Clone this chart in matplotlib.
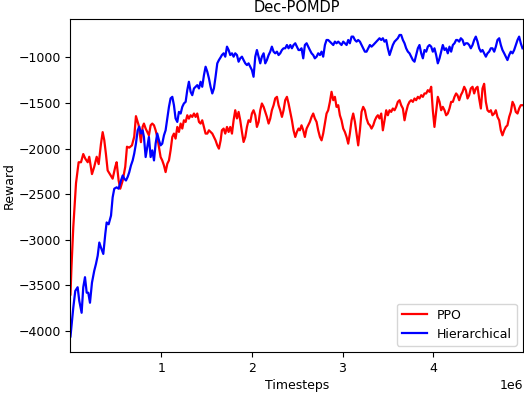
import numpy as np
import matplotlib
matplotlib.use("Agg")
import matplotlib.pyplot as plt

# timesteps (in millions) and rewards
red_t_early = [0.000, 0.011, 0.031, 0.061, 0.090, 0.116, 0.141, 0.163, 0.190, 0.207,
               0.237, 0.262, 0.289, 0.311, 0.336, 0.355, 0.373, 0.391, 0.410, 0.435,
               0.465, 0.494, 0.509, 0.531, 0.549, 0.576, 0.604, 0.623, 0.648, 0.678,
               0.703, 0.722, 0.752, 0.777, 0.796]
red_r_early = [-3600, -3300, -2860, -2380, -2150, -2150, -2060, -2110, -2150, -2090,
               -2280, -2200, -2090, -2170, -1950, -1820, -1910, -2060, -2240, -2280,
               -2330, -2200, -2150, -2350, -2440, -2350, -2200, -1980, -1990, -1965,
               -1870, -1645, -1745, -1930, -1760]

blue_t_early = [0.000, 0.031, 0.053, 0.079, 0.097, 0.123, 0.141, 0.160, 0.179, 0.196,
                0.215, 0.237, 0.262, 0.281, 0.300, 0.318, 0.336, 0.362, 0.384, 0.399,
                0.421, 0.447, 0.465, 0.483, 0.509, 0.531, 0.557, 0.576, 0.593, 0.612,
                0.631, 0.648, 0.667, 0.686, 0.703, 0.722, 0.741, 0.759, 0.777, 0.796]
blue_r_early = [-4060, -3743, -3560, -3520, -3670, -3800, -3520, -3410, -3580, -3580,
                -3690, -3470, -3340, -3265, -3175, -3030, -3085, -3155, -2935, -2810,
                -2830, -2735, -2535, -2440, -2425, -2440, -2350, -2295, -2330, -2350,
                -2310, -2260, -2185, -2130, -2055, -1945, -1800, -1760, -1835, -1800]

# shared logging points after ~0.8M steps
t_common = [
    0.810, 0.829, 0.847, 0.865, 0.884, 0.902, 0.921, 0.939, 0.957, 0.976,
    0.994, 1.012, 1.031, 1.049, 1.068, 1.086, 1.104, 1.123, 1.141, 1.159,
    1.178, 1.196, 1.215, 1.233, 1.251, 1.270, 1.288, 1.306, 1.325, 1.343,
    1.362, 1.380, 1.398, 1.417, 1.435, 1.453, 1.472, 1.490, 1.509, 1.527,
    1.545, 1.564, 1.582, 1.600, 1.619, 1.637, 1.656,
    1.670, 1.689, 1.707, 1.726, 1.744, 1.762, 1.781, 1.799, 1.817, 1.836,
    1.854, 1.872, 1.891, 1.909, 1.928, 1.946, 1.964, 1.983, 2.001, 2.019,
    2.038, 2.056, 2.075, 2.093, 2.111, 2.130, 2.148, 2.166, 2.185, 2.203,
    2.221, 2.240, 2.258, 2.277, 2.295, 2.313, 2.332, 2.350, 2.368, 2.387,
    2.405, 2.424, 2.442, 2.460, 2.479, 2.497, 2.515,
    2.530, 2.548, 2.567, 2.585, 2.604, 2.622, 2.640, 2.659, 2.677, 2.695,
    2.714, 2.732, 2.751, 2.769, 2.787, 2.806, 2.824, 2.842, 2.861, 2.879,
    2.898, 2.916, 2.934, 2.953, 2.971, 2.989, 3.008, 3.026, 3.045, 3.063,
    3.081, 3.100, 3.118, 3.137, 3.155, 3.173, 3.192, 3.210, 3.228, 3.247,
    3.265, 3.284, 3.302, 3.320, 3.339, 3.357, 3.375,
    3.390, 3.408, 3.427, 3.445, 3.463, 3.482, 3.500, 3.519, 3.537, 3.555,
    3.574, 3.592, 3.610, 3.629, 3.647, 3.666, 3.684, 3.702, 3.721, 3.739,
    3.757, 3.776, 3.794, 3.812, 3.831, 3.849, 3.868, 3.886, 3.904, 3.923,
    3.941, 3.959, 3.978, 3.996, 4.014, 4.033, 4.051, 4.070, 4.088, 4.106,
    4.125, 4.143, 4.161, 4.180, 4.198, 4.217, 4.235, 4.253,
    4.268, 4.287, 4.305, 4.324, 4.342, 4.360, 4.379, 4.397, 4.415, 4.434,
    4.452, 4.470, 4.489, 4.507, 4.526, 4.544, 4.562, 4.581, 4.599, 4.617,
    4.636, 4.654, 4.673, 4.691, 4.709, 4.728, 4.746, 4.764, 4.783, 4.801,
    4.819, 4.838, 4.856, 4.875, 4.893, 4.911, 4.930, 4.948, 4.966, 4.985]

ppo_r = [
    -1726, -1781, -1818, -1855, -1745, -1726, -1745, -1800, -1873, -1983,
    -2093, -2130, -2185, -2258, -2166, -2130, -2020, -1873, -1836, -1891,
    -1763, -1818, -1726, -1781, -1690, -1708, -1635, -1672, -1635, -1653,
    -1616, -1653, -1616, -1708, -1726, -1690, -1763, -1836, -1836, -1800,
    -1818, -1836, -1873, -1910, -1965, -2001, -1910,
    -1800, -1781, -1836, -1763, -1818, -1763, -1836, -1690, -1580, -1670,
    -1598, -1690, -1818, -1928, -1873, -1763, -1690, -1708, -1616, -1580,
    -1635, -1763, -1708, -1580, -1506, -1543, -1598, -1653, -1726, -1672,
    -1580, -1525, -1450, -1433, -1525, -1580, -1653, -1580, -1470, -1433,
    -1506, -1598, -1690, -1800, -1873, -1818, -1781,
    -1800, -1745, -1800, -1873, -1781, -1745, -1708, -1653, -1616, -1670,
    -1708, -1800, -1873, -1910, -1836, -1726, -1616, -1580, -1488, -1378,
    -1470, -1433, -1543, -1525, -1635, -1690, -1781, -1818, -1873, -1946,
    -1836, -1690, -1616, -1708, -1836, -1965, -1800, -1598, -1543, -1580,
    -1670, -1726, -1745, -1781, -1745, -1690, -1653,
    -1635, -1670, -1616, -1800, -1690, -1580, -1635, -1580, -1598, -1561,
    -1580, -1543, -1488, -1470, -1525, -1561, -1690, -1598, -1525, -1488,
    -1470, -1488, -1451, -1470, -1433, -1451, -1415, -1433, -1396, -1396,
    -1360, -1378, -1323, -1580, -1763, -1598, -1433, -1488, -1580, -1543,
    -1580, -1635, -1616, -1561, -1488, -1488, -1433, -1396,
    -1415, -1470, -1415, -1378, -1323, -1360, -1451, -1415, -1341, -1323,
    -1396, -1341, -1323, -1451, -1561, -1341, -1290, -1488, -1580, -1598,
    -1580, -1635, -1616, -1580, -1653, -1690, -1800, -1855, -1800, -1763,
    -1745, -1653, -1598, -1488, -1525, -1598, -1616, -1561, -1525, -1525]

hier_r = [
    -1873, -2093, -1983, -1873, -2093, -2020, -2130, -1946, -1836, -1910,
    -1965, -1946, -1855, -1800, -1670, -1543, -1450, -1433, -1525, -1670,
    -1708, -1598, -1616, -1543, -1506, -1488, -1360, -1268, -1378, -1415,
    -1341, -1323, -1305, -1341, -1268, -1323, -1195, -1103, -1158, -1231,
    -1323, -1396, -1341, -1213, -1066, -1030, -1000,
    -975, -956, -993, -883, -920, -975, -956, -993, -956, -975,
    -1048, -1011, -993, -1030, -1066, -1085, -1066, -1103, -1140, -1213,
    -993, -920, -993, -1066, -993, -956, -1066, -1030, -975, -938,
    -883, -938, -956, -938, -975, -956, -920, -901, -901, -865,
    -901, -865, -901, -865, -846, -883, -920,
    -920, -901, -1011, -865, -846, -883, -920, -956, -975, -1011,
    -993, -956, -975, -938, -993, -865, -810, -810, -828, -846,
    -865, -828, -846, -828, -846, -865, -828, -846, -865, -810,
    -846, -773, -773, -810, -828, -810, -828, -865, -901, -938,
    -938, -901, -865, -883, -865, -846, -828,
    -810, -791, -810, -791, -828, -810, -901, -975, -920, -865,
    -828, -810, -791, -755, -755, -810, -846, -901, -938, -956,
    -993, -1030, -1048, -975, -901, -865, -956, -1011, -920, -938,
    -883, -865, -883, -938, -901, -975, -1066, -1011, -938, -865,
    -920, -901, -956, -883, -938, -865, -846, -810,
    -810, -828, -791, -810, -865, -846, -846, -865, -901, -865,
    -810, -773, -828, -901, -938, -920, -956, -993, -956, -938,
    -901, -901, -938, -883, -810, -791, -865, -920, -956, -993,
    -1030, -975, -938, -956, -920, -865, -810, -773, -846, -901]

labels = ['PPO', 'Hierarchical']
colors = ['red', 'blue']

ppo_t = (np.array(red_t_early + t_common)) * 1e6
ppo_y = np.array(red_r_early + ppo_r)
hier_t = (np.array(blue_t_early + t_common)) * 1e6
hier_y = np.array(blue_r_early + hier_r)

fs = 9
fig = plt.figure(figsize=(5.24, 3.96), dpi=100)
ax = fig.add_axes([0.1345, 0.1111, 0.8635, 0.8409])
ax.plot(ppo_t, ppo_y, color=colors[0], lw=1.6, label=labels[0])
ax.plot(hier_t, hier_y, color=colors[1], lw=1.6, label=labels[1])

ax.set_xlim(0, 4.99e6)
ax.set_ylim(-4230, -580)
ax.set_xticks([1e6, 2e6, 3e6, 4e6])
ax.set_yticks([-4000, -3500, -3000, -2500, -2000, -1500, -1000])
ax.tick_params(labelsize=fs)
ax.xaxis.get_offset_text().set_fontsize(fs)
ax.set_title('Dec-POMDP', fontsize=10.5, pad=5)
ax.set_xlabel('Timesteps', fontsize=fs, labelpad=3)
ax.set_ylabel('Reward', fontsize=fs, labelpad=2)
ax.legend(loc='lower right', fontsize=fs)

plt.savefig('out.png', dpi=100)
